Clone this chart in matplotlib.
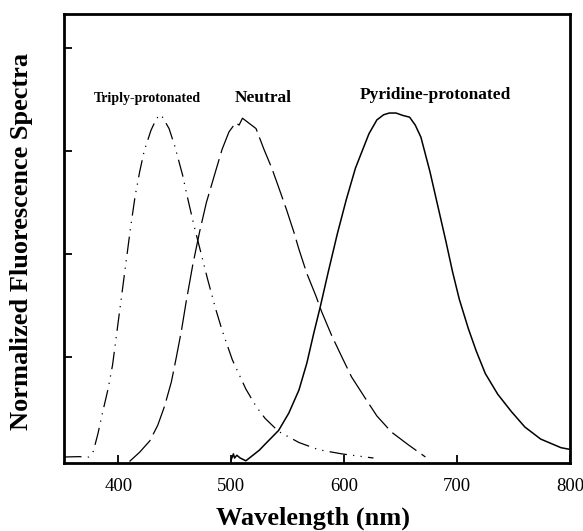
import matplotlib.pyplot as plt

plt.rcParams["font.family"] = ["Liberation Serif", "DejaVu Serif"]

# wavelength (nm) / normalized intensity
triply_wl = [352, 365, 374, 378, 382, 386, 391, 395, 399, 403, 407, 411, 415, 419, 423,
             429, 434, 438, 445, 450, 457, 461, 467, 473.6, 479, 486, 492, 501, 513,
             522, 530, 542, 560, 577.5, 598, 626]
triply_int = [0.003, 0.004, 0.003, 0.02, 0.07, 0.13, 0.2, 0.27, 0.37, 0.47, 0.57, 0.67,
              0.76, 0.83, 0.89, 0.95, 0.985, 0.995, 0.955, 0.905, 0.82, 0.76, 0.675, 0.59,
              0.52, 0.435, 0.37, 0.285, 0.2, 0.15, 0.115, 0.077, 0.045, 0.024, 0.012, 0.0]

neutral_wl = [410, 419, 428, 435, 441, 447, 451.5, 456, 460, 466, 472, 478, 487, 492, 498,
              504, 507, 510, 514, 522, 529, 536, 542, 549, 555.5, 560, 567, 575, 580, 589,
              598, 606.6, 619, 629, 642, 657, 672]
neutral_int = [-0.01, 0.017, 0.05, 0.095, 0.15, 0.22, 0.293, 0.37, 0.45, 0.56, 0.655, 0.74,
               0.84, 0.895, 0.945, 0.972, 0.965, 0.985, 0.975, 0.955, 0.895, 0.84, 0.785,
               0.72, 0.655, 0.605, 0.535, 0.47, 0.425, 0.355, 0.293, 0.235, 0.172, 0.122,
               0.075, 0.038, 0.003]

pyridine_wl = [500, 502, 503, 505, 508, 513, 520, 525, 530, 542, 551, 560, 567, 573, 579,
               586, 594, 602, 610, 616, 622, 629, 635, 640, 646, 652, 658, 663, 668,
               676, 683, 690, 696, 702, 710, 717, 725, 736, 748, 760, 774, 792, 800]
pyridine_int = [-0.005, 0.012, 0.0, 0.008, 0.0, -0.008, 0.01, 0.023, 0.04, 0.08, 0.13,
                0.197, 0.275, 0.36, 0.44, 0.54, 0.65, 0.75, 0.84, 0.89, 0.94, 0.98,
                0.995, 1.0, 1.0, 0.993, 0.988, 0.965, 0.93, 0.83, 0.73, 0.63, 0.54, 0.46,
                0.375, 0.31, 0.245, 0.185, 0.135, 0.09, 0.055, 0.03, 0.025]

x_ticks = [400, 500, 600, 700, 800]
y_ticks = [0.293, 0.59, 0.89, 1.188]

labels = ["Triply-protonated", "Neutral", "Pyridine-protonated"]
label_pos = [(426, 1.043), (528, 1.043), (681, 1.052)]
label_size = [10, 12.5, 12.5]

fig = plt.figure(figsize=(5.83, 5.31), dpi=100)
ax = fig.add_axes([0.1098, 0.128, 0.8679, 0.8456])

ax.plot(triply_wl, triply_int, color="black", lw=0.9, dashes=(14, 5, 1, 5, 1, 5))
ax.plot(neutral_wl, neutral_int, color="black", lw=0.9, dashes=(24, 5))
ax.plot(pyridine_wl, pyridine_int, color="black", lw=1.1)

for text, (x, y), fs in zip(labels, label_pos, label_size):
    ax.text(x, y, text, ha="center", va="center", fontsize=fs, fontweight="bold")

ax.set_xlim(352, 800)
ax.set_ylim(-0.0145, 1.287)
ax.set_xticks(x_ticks)
ax.set_yticks(y_ticks)
ax.set_yticklabels([])
ax.tick_params(direction="in", length=6, width=1.3, labelsize=13.5, pad=11)

for sp in ax.spines.values():
    sp.set_linewidth(2)

fig.text(0.537, 0.0245, "Wavelength (nm)", ha="center", va="center",
         fontsize=19, fontweight="bold")
fig.text(0.0377, 0.546, "Normalized Fluorescence Spectra", ha="center", va="center",
         rotation=90, fontsize=19, fontweight="bold")

fig.savefig("out.png", dpi=100)
